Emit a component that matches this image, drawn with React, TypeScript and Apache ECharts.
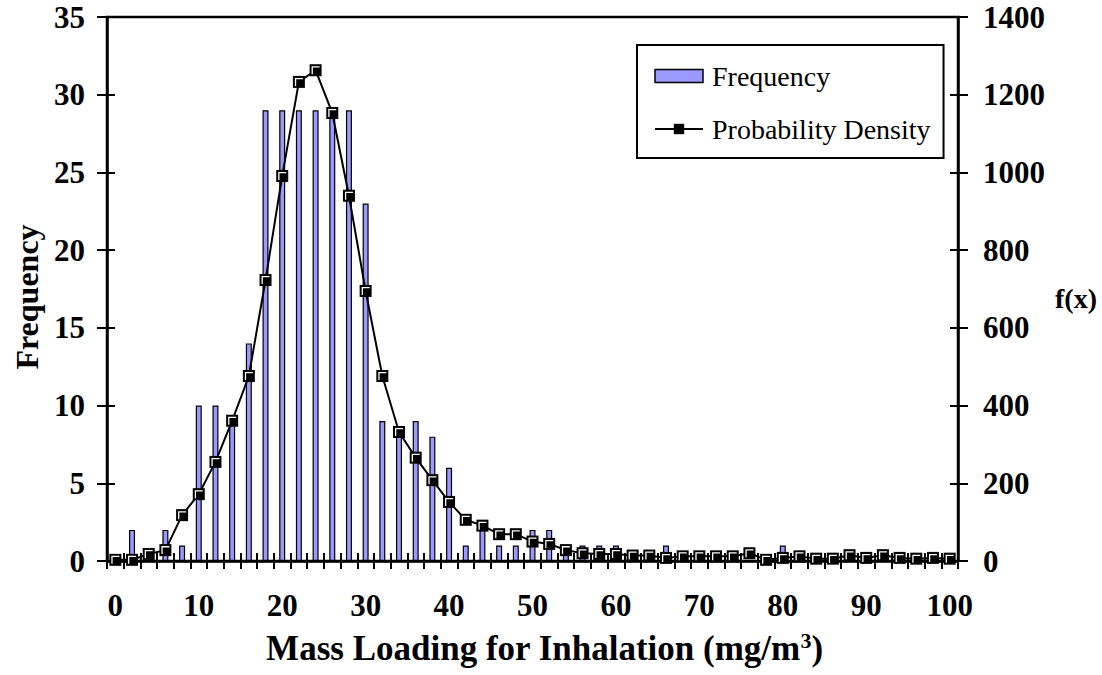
import React, { useEffect, useRef } from "react";
import * as echarts from "echarts";

const categories: string[] = [
  "0","2","4","6","8","10","12","14","16","18","20","22","24","26","28","30","32","34","36","38","40",
  "42","44","46","48","50","52","54","56","58","60","62","64","66","68","70","72","74","76","78","80",
  "82","84","86","88","90","92","94","96","98","100",
];

const frequency: number[] = [
  0, 2, 0, 2, 1, 10, 10, 9, 14, 29, 29, 29, 29, 29, 29, 23, 9, 8, 9, 8, 6,
  1, 2, 1, 1, 2, 2, 1, 1, 1, 1, 0, 0, 1, 0, 0, 0, 0, 0, 0, 1,
  0, 0, 0, 0, 0, 0, 0, 0, 0, 0,
];

const density: number[] = [
  3, 3, 18, 28, 118, 172, 255, 361, 476, 723, 991, 1233, 1263, 1153, 940, 695, 476, 332, 266, 208, 152,
  106, 91, 69, 69, 50, 44, 28, 20, 18, 18, 14, 14, 8, 12, 12, 12, 12, 20, 3, 8,
  12, 6, 6, 15, 8, 15, 8, 6, 8, 6,
];

const leftTicks = { min: 0, max: 35, interval: 5 };
const rightTicks = { min: 0, max: 1400, interval: 200 };

const rightTitle = "f(x)";

const FONT = "'Liberation Serif', 'Times New Roman', serif";

export default function App() {
  const ref = useRef<HTMLDivElement>(null);

  useEffect(() => {
    if (!ref.current) return;
    const chart = echarts.init(ref.current, undefined, { renderer: "svg" });
    const axisLine = { show: true, lineStyle: { color: "#000", width: 2.5 } };
    const tickStyle = { color: "#000", width: 2 };
    const labelStyle = { color: "#000", fontFamily: FONT, fontWeight: "bold" as const, fontSize: 31 };
    const plain = (v: number | string) => String(v);

    chart.setOption({
      animation: false,
      backgroundColor: "#fff",
      grid: {
        left: 107,
        right: 144,
        top: 17,
        bottom: 114,
        show: true,
        borderColor: "#000",
        borderWidth: 2.5,
        backgroundColor: "transparent",
      },
      graphic: [
        {
          type: "text",
          left: 1055,
          top: 284,
          style: { text: rightTitle, fill: "#000", font: "bold 28px " + FONT },
        },
      ],
      legend: {
        data: [
          { name: "Frequency", icon: "rect", itemStyle: { color: "#9999FF", borderColor: "#000", borderWidth: 1.5 } },
          { name: "Probability Density" },
        ],
        orient: "vertical",
        left: 637,
        top: 45,
        padding: [17, 13, 15, 17],
        itemGap: 25,
        itemWidth: 48,
        itemHeight: 13,
        backgroundColor: "#fff",
        borderColor: "#000",
        borderWidth: 2,
        borderRadius: 0,
        textStyle: { color: "#000", fontFamily: FONT, fontSize: 28, padding: [0, 0, 0, 4] },
      },
      xAxis: [
        {
          type: "category",
          data: categories,
          position: "bottom",
          boundaryGap: true,
          axisLine,
          axisTick: { show: true, interval: 0, length: 8, inside: false, lineStyle: tickStyle },
          axisLabel: { ...labelStyle, interval: 4, margin: 29 },
          splitLine: { show: false },
          name: "Mass Loading for Inhalation (mg/m{sup|3})",
          nameLocation: "middle",
          nameGap: 68,
          nameTextStyle: {
            color: "#000",
            fontFamily: FONT,
            fontWeight: "bold",
            fontSize: 35,
            lineHeight: 38,
            padding: [0, 0, 0, 24],
            rich: {
              sup: { fontFamily: FONT, fontWeight: "bold", fontSize: 22, lineHeight: 22, verticalAlign: "top", padding: [0, 0, 15, 0], color: "#000" },
            },
          },
        },
        {
          type: "category",
          data: categories,
          position: "bottom",
          boundaryGap: true,
          axisLine: { show: false },
          axisTick: { show: true, interval: 0, length: 8, inside: true, lineStyle: tickStyle },
          axisLabel: { show: false },
          splitLine: { show: false },
        },
      ],
      yAxis: [
        {
          type: "value",
          position: "left",
          ...leftTicks,
          axisLine,
          axisTick: { show: true, length: 10, inside: false, lineStyle: tickStyle },
          axisLabel: { ...labelStyle, margin: 22, formatter: plain },
          splitLine: { show: false },
          name: "Frequency",
          nameLocation: "middle",
          nameGap: 64,
          nameRotate: 90,
          nameTextStyle: { color: "#000", fontFamily: FONT, fontWeight: "bold", fontSize: 32, padding: [0, 16, 0, 0] },
        },
        {
          type: "value",
          position: "right",
          ...rightTicks,
          axisLine,
          axisTick: { show: true, length: 10, inside: false, lineStyle: tickStyle },
          axisLabel: { ...labelStyle, margin: 25, formatter: plain },
          splitLine: { show: false },
        },
        {
          type: "value",
          position: "left",
          ...leftTicks,
          axisLine: { show: false },
          axisTick: { show: true, length: 8, inside: true, lineStyle: tickStyle },
          axisLabel: { show: false },
          splitLine: { show: false },
        },
        {
          type: "value",
          position: "right",
          ...rightTicks,
          axisLine: { show: false },
          axisTick: { show: true, length: 8, inside: true, lineStyle: tickStyle },
          axisLabel: { show: false },
          splitLine: { show: false },
        },
      ],
      series: [
        {
          name: "Frequency",
          type: "bar",
          xAxisIndex: 0,
          yAxisIndex: 0,
          data: frequency,
          barWidth: 6,
          itemStyle: { color: "#9999FF", borderColor: "#000", borderWidth: 1.2 },
          z: 2,
        },
        {
          name: "Probability Density",
          type: "line",
          xAxisIndex: 0,
          yAxisIndex: 1,
          data: density,
          symbol: "rect",
          symbolSize: 12,
          showSymbol: true,
          showAllSymbol: true,
          lineStyle: { color: "#000", width: 2 },
          itemStyle: { color: "#000", borderColor: "#000", borderWidth: 0 },
          z: 3,
        },
        {
          name: "pd-highlight",
          type: "line",
          xAxisIndex: 0,
          yAxisIndex: 1,
          data: density,
          symbol: "path://M0,0L10,0L10,1.6L1.6,1.6L1.6,10L0,10Z",
          symbolSize: 8,
          showSymbol: true,
          showAllSymbol: true,
          lineStyle: { width: 0, opacity: 0 },
          itemStyle: { color: "#fff", borderWidth: 0 },
          silent: true,
          z: 4,
        },
      ],
    });
    return () => chart.dispose();
  }, []);

  return <div ref={ref} style={{ position: "absolute", left: 0, top: 0, width: 1102, height: 675 }} />;
}
